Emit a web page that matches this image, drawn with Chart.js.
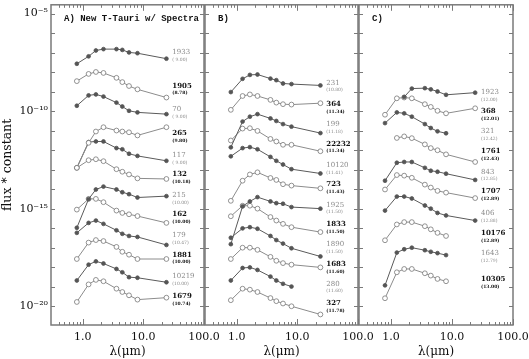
<!DOCTYPE html>
<html>
<head>
<meta charset="utf-8">
<script src="https://cdn.jsdelivr.net/npm/chart.js@4"></script>
<style>
  html, body { margin: 0; background: #fff; }
  #wrap { position: relative; width: 529px; height: 359px; }
  #wrap canvas { position: absolute; left: 0; top: 0; }
</style>
</head>
<body>
<div id="wrap">
  <canvas id="panelA" width="529" height="359"></canvas>
  <canvas id="panelB" width="529" height="359"></canvas>
  <canvas id="panelC" width="529" height="359"></canvas>
</div>
<script>
// wavelengths (um): I, J, H, K, IRAC 3.6/4.5/5.8/8.0, MIPS 24
const lambda = [0.8, 1.25, 1.65, 2.2, 3.6, 4.5, 5.8, 8.0, 24];

// axis ticks
const xTicks = [0.4, 0.5, 0.6, 0.7, 0.8, 0.9, 1, 2, 3, 4, 5, 6, 7, 8, 9, 10, 20, 30, 40, 50, 60, 70, 80, 90, 100];
const xTickLabels = { 1: "1.0", 10: "10.0", 100: "100.0" };
const yTicks = [-20, -19, -18, -17, -16, -15, -14, -13, -12, -11, -10, -9, -8, -7, -6, -5];
const yTickLabels = { "-5": "10⁻⁵", "-10": "10⁻¹⁰", "-15": "10⁻¹⁵", "-20": "10⁻²⁰" };

// log10(flux * constant), one row per source, columns follow lambda
const fluxA = [
  [-7.57, -7.19, -6.89, -6.82, -6.82, -6.86, -6.99, -7.03, -7.31],
  [-8.46, -8.09, -7.99, -8.04, -8.29, -8.51, -8.71, -8.88, -9.30],
  [-9.72, -9.19, -9.14, -9.25, -9.56, -9.76, -9.98, -10.06, -10.15],
  [-12.90, -11.62, -11.04, -10.82, -10.99, -11.04, -11.08, -11.24, -10.82],
  [-12.90, -11.58, -11.55, -11.55, -11.89, -11.95, -12.18, -12.29, -12.54],
  [-12.90, -12.51, -12.46, -12.56, -12.97, -13.10, -13.24, -13.44, -13.47],
  [-15.97, -14.50, -14.01, -13.86, -14.01, -14.15, -14.25, -14.42, -14.35],
  [-15.04, -14.49, -14.49, -14.66, -15.09, -15.21, -15.28, -15.37, -15.72],
  [-16.23, -15.72, -15.60, -15.77, -16.10, -16.28, -16.39, -16.44, -16.85],
  [-17.57, -16.73, -16.60, -16.65, -16.95, -17.20, -17.35, -17.57, -17.57],
  [-18.67, -17.86, -17.69, -17.80, -18.08, -18.25, -18.50, -18.53, -18.76],
  [-19.77, -18.87, -18.64, -18.71, -19.09, -19.26, -19.43, -19.65, -19.55]
];
const fluxB = [
  [-9.02, -8.34, -8.14, -8.12, -8.33, -8.41, -8.58, -8.61, -8.68],
  [-9.93, -9.22, -9.14, -9.22, -9.42, -9.56, -9.64, -9.66, -9.59],
  [-11.85, -10.53, -10.28, -10.15, -10.37, -10.50, -10.66, -10.79, -11.12],
  [-11.50, -10.89, -10.87, -11.01, -11.42, -11.55, -11.72, -11.72, -12.05],
  [-12.31, -11.89, -11.84, -11.95, -12.34, -12.54, -12.73, -12.97, -13.19],
  [-14.59, -13.56, -13.24, -13.13, -13.42, -13.52, -13.74, -13.81, -13.95],
  [-16.81, -14.87, -14.62, -14.40, -14.62, -14.71, -14.74, -14.91, -14.99],
  [-15.38, -14.84, -14.84, -14.99, -15.42, -15.60, -15.77, -15.94, -16.19],
  [-16.48, -16.00, -15.94, -16.02, -16.39, -16.60, -16.78, -17.02, -17.44],
  [-17.57, -16.99, -16.99, -17.10, -17.46, -17.66, -17.78, -17.86, -18.00],
  [-18.67, -18.03, -18.00, -18.13, -18.47, -18.67, -18.84, -18.98, null],
  [-19.68, -19.09, -19.14, -19.26, -19.57, -19.73, -19.85, -19.99, -20.41]
];
const fluxC = [
  [null, null, -9.27, -8.84, -8.82, -8.88, -8.99, -9.16, -9.05],
  [-10.18, -9.34, -9.30, -9.34, -9.64, -9.78, -9.98, -10.11, -9.85],
  [-10.61, -10.06, -10.11, -10.28, -10.66, -10.86, -11.03, -11.13, null],
  [null, -11.37, -11.29, -11.38, -11.70, -11.89, -12.00, -12.21, -12.60],
  [-13.56, -12.64, -12.60, -12.60, -12.90, -13.05, -13.10, -13.20, -13.52],
  [-14.01, -13.27, -13.30, -13.41, -13.76, -13.91, -14.08, -14.17, -14.45],
  [-15.09, -14.37, -14.37, -14.47, -14.83, -14.99, -15.21, -15.34, -15.60],
  [-16.61, -15.80, -15.68, -15.68, -15.89, -16.05, -16.23, -16.39, null],
  [-18.92, -17.24, -17.07, -16.99, -17.12, -17.20, -17.27, -17.37, null],
  [-19.58, -18.25, -18.08, -18.08, -18.30, -18.42, -18.59, -18.71, null]
];

// source names and bracketed values
const namesA = ["1933", "1905", "70", "265", "117", "132", "215", "162", "179", "1881", "10219", "1679"];
const magsA = ["( 9.00)", "(8.78)", "( 9.00)", "(9.80)", "( 9.00)", "(10.18)", "(10.00)", "(10.00)", "(10.47)", "(10.00)", "(10.00)", "(10.74)"];
const namesB = ["231", "364", "199", "22232", "10120", "723", "1925", "1833", "1890", "1683", "280", "327"];
const magsB = ["(10.80)", "(11.34)", "(11.18)", "(11.34)", "(11.41)", "(11.43)", "(11.50)", "(11.50)", "(11.50)", "(11.60)", "(11.60)", "(11.78)"];
const namesC = ["1923", "368", "321", "1761", "843", "1707", "406", "10176", "1643", "10305"];
const magsC = ["(12.00)", "(12.01)", "(12.42)", "(12.43)", "(12.85)", "(12.89)", "(12.88)", "(12.89)", "(12.79)", "(13.00)"];

// where the name labels sit (log10 flux), at lambda = labelLambda
const labelLambda = 30;
const levelsA = [-6.98, -8.70, -9.91, -11.13, -12.24, -13.25, -14.32, -15.28, -16.34, -17.35, -18.47, -19.48];
const levelsB = [-8.54, -9.64, -10.66, -11.67, -12.76, -13.74, -14.79, -15.80, -16.81, -17.83, -18.84, -19.85];
const levelsC = [-9.02, -10.01, -11.03, -12.04, -13.10, -14.11, -15.21, -16.26, -17.27, -18.59];

const serif = "'DejaVu Serif', 'Liberation Serif', serif";

function decor(title, names, mags, levels) {
  return {
    id: "decor",
    afterDatasetsDraw(chart) {
      const { ctx, chartArea: a, scales: { x, y } } = chart;
      ctx.save();
      ctx.strokeStyle = "#7a7a7a";
      ctx.lineWidth = 1;
      ctx.beginPath();
      xTicks.forEach(v => {
        const px = Math.round(x.getPixelForValue(v)) + 0.5;
        const len = xTickLabels[v] ? 6 : 3;
        ctx.moveTo(px, a.bottom); ctx.lineTo(px, a.bottom - len);
        ctx.moveTo(px, a.top); ctx.lineTo(px, a.top + len);
      });
      yTicks.forEach(v => {
        const py = Math.round(y.getPixelForValue(v)) + 0.5;
        ctx.moveTo(a.left, py); ctx.lineTo(a.left + 4, py);
        ctx.moveTo(a.right, py); ctx.lineTo(a.right - 4, py);
      });
      ctx.stroke();
      ctx.lineWidth = 1.5;
      ctx.strokeRect(a.left, a.top, a.right - a.left, a.bottom - a.top);

      ctx.textBaseline = "middle";
      ctx.fillStyle = "#111";
      ctx.font = "bold 9px 'Liberation Mono', monospace";
      ctx.fillText(title, a.left + 13, a.top + 14);

      const lx = x.getPixelForValue(labelLambda);
      names.forEach((n, i) => {
        const ly = y.getPixelForValue(levels[i]);
        const bold = i % 2 === 1;
        ctx.fillStyle = bold ? "#111" : "#8a8a8a";
        ctx.font = (bold ? "bold " : "") + "7px " + serif;
        ctx.fillText(n, lx, ly);
        ctx.font = (bold ? "bold " : "") + "4.5px " + serif;
        ctx.fillText(mags[i], lx, ly + 7.5);
      });
      ctx.restore();
    }
  };
}

function panel(id, flux, names, mags, levels, title, padLeft, padRight, showY) {
  new Chart(document.getElementById(id), {
    type: "line",
    data: {
      datasets: flux.map((vals, i) => ({
        data: lambda.map((l, k) => ({ x: l, y: vals[k] })).filter(p => p.y !== null),
        borderColor: i % 2 ? "#8c8c8c" : "#5a5a5a",
        borderWidth: 1,
        pointRadius: i % 2 ? 2.4 : 1.9,
        pointBackgroundColor: i % 2 ? "#fff" : "#555",
        pointBorderColor: i % 2 ? "#777" : "#555",
        pointBorderWidth: 0.8,
        tension: 0,
        fill: false
      }))
    },
    options: {
      responsive: false,
      animation: false,
      devicePixelRatio: 1,
      layout: { padding: { left: padLeft, right: padRight, top: 1, bottom: 0 } },
      plugins: { legend: { display: false }, tooltip: { enabled: false } },
      scales: {
        x: {
          type: "logarithmic",
          min: 0.32,
          max: 100,
          grid: { display: false, drawTicks: false },
          border: { display: false },
          afterBuildTicks: s => { s.ticks = xTicks.map(v => ({ value: v })); },
          afterFit: s => { s.height = 34; s.paddingLeft = 0; s.paddingRight = 0; },
          ticks: {
            autoSkip: false, maxRotation: 0, padding: 6, color: "#111",
            font: { family: serif, size: 11 },
            callback: v => xTickLabels[v] || ""
          },
          title: { display: true, text: "λ(μm)", color: "#111", font: { family: serif, size: 12 }, padding: 0 }
        },
        y: {
          type: "linear",
          min: -20.95,
          max: -4.55,
          display: showY,
          grid: { display: false, drawTicks: false },
          border: { display: false },
          afterBuildTicks: s => { s.ticks = yTicks.map(v => ({ value: v })); },
          afterFit: s => { s.width = showY ? 51 : 0; s.paddingTop = 0; s.paddingBottom = 0; },
          ticks: {
            autoSkip: false, padding: 3, color: "#111",
            font: { family: serif, size: 11 },
            callback: v => yTickLabels[v] || ""
          },
          title: { display: showY, text: "flux * constant", color: "#111", font: { family: serif, size: 12.5 }, padding: 0 }
        }
      }
    },
    plugins: [decor(title, names, mags, levels)]
  });
}

panel("panelA", fluxA, namesA, magsA, levelsA, "A) New T-Tauri w/ Spectra", 0, 325, true);
panel("panelB", fluxB, namesB, magsB, levelsB, "B)", 205, 171, false);
panel("panelC", fluxC, namesC, magsC, levelsC, "C)", 359, 16, false);
</script>
</body>
</html>
